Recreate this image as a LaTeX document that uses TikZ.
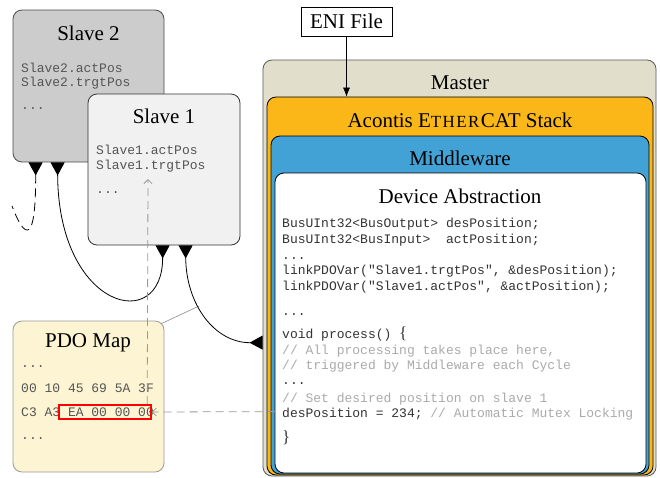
\documentclass[tikz,border=0pt]{standalone}
\usepackage{fontspec}
\setmainfont{Liberation Serif}
\setmonofont{Liberation Mono}
\usetikzlibrary{arrows.meta,calc}
\definecolor{slavetwo}{HTML}{CCCCCC}
\definecolor{slaveone}{HTML}{F1F1F1}
\definecolor{pdofill}{HTML}{FCF4D3}
\definecolor{masterfill}{HTML}{E2DECC}
\definecolor{acontisfill}{HTML}{FBB617}
\definecolor{mwfill}{HTML}{42A1D5}
\definecolor{codecol}{HTML}{333333}
\definecolor{commentcol}{HTML}{AAAAAA}
\definecolor{slavetext}{HTML}{555555}
\definecolor{dashgray}{HTML}{999999}
\tikzset{bigtri/.tip={Triangle[reversed,width=14pt,length=13pt]}}
\begin{document}
\begin{tikzpicture}[x=1pt,y=-1pt,
  box/.style={draw, rounded corners=9pt, inner sep=0pt, line width=0.8pt},
  ttl/.style={font=\fontsize{21}{25}\selectfont, anchor=base, inner sep=0pt},
  code/.style={font=\fontsize{13}{15}\selectfont\ttfamily, anchor=base west, inner sep=0pt, text=codecol},
  slv/.style={code, text=slavetext},
  cmt/.style={code, text=commentcol},
  gdash/.style={draw=dashgray, dash pattern=on 8pt off 5pt, line width=0.8pt, -{Straight Barb[length=4pt,width=8pt]}},
  link/.style={line width=0.8pt, bigtri-bigtri}]
\fill[white] (0,0) rectangle (660,477);
\useasboundingbox (0,0) rectangle (660,477);

% slaves and PDO map
\node[box, fill=slavetwo, draw=black!70, minimum width=151, minimum height=152] (s2) at (88.5,86) {};
\node[ttl] (s2t) at (88.5,40) {Slave 2};
\node[slv] (s2l1) at (21,72) {Slave2.actPos};
\node[slv] (s2l2) at (21,86) {Slave2.trgtPos};
\node[slv] (s2l3) at (21,109) {...};

\node[box, fill=slaveone, draw=black!80, minimum width=152, minimum height=151] (s1) at (164,169.5) {};
\node[ttl] (s1t) at (164,123) {Slave 1};
\node[slv] (s1l1) at (96,154) {Slave1.actPos};
\node[slv] (s1l2) at (96,169) {Slave1.trgtPos};
\node[slv] (s1l3) at (96,193) {...};

\node[box, fill=pdofill, draw=black!40, minimum width=151, minimum height=151] (pdo) at (88.5,396.5) {};
\node[ttl] (pdot) at (88,347) {PDO Map};
\node[slv] (p1) at (21,367) {...};
\node[slv] (p2) at (21,392) {00 10 45 69 5A 3F};
\node[slv] (p3) at (21,416) {C3 A3 EA 00 00 00};
\node[slv] (p4) at (21,439) {...};
\node[draw=red, line width=1.6pt, minimum width=92, minimum height=14, inner sep=0pt] (red) at (105,412) {};

% master stack
\node[box, fill=masterfill, draw=black!65, minimum width=393, minimum height=416] (master) at (459.5,268) {};
\node[box, fill=acontisfill, minimum width=386, minimum height=378] (acontis) at (460,286) {};
\node[box, fill=mwfill, minimum width=378, minimum height=338] (mw) at (460,305) {};
\node[box, fill=white, minimum width=371, minimum height=300] (da) at (460.5,323) {};
\node[ttl] (mastert) at (460,89) {Master};
\node[ttl] (acontt) at (460,127) {Acontis E{\fontsize{17}{17}\selectfont T\kern1.4pt H\kern1.4pt E\kern1.4pt R}\kern1.4pt CAT Stack};
\node[ttl] (mwt) at (460,165) {Middleware};
\node[ttl] (dat) at (460,203) {Device Abstraction};

\node[code] (l1) at (282,227) {BusUInt32<BusOutput> desPosition;};
\node[code] (l2) at (282,243) {BusUInt32<BusInput>\ \ actPosition;};
\node[code] (l3) at (282,259) {...};
\node[code] (l4) at (282,274) {linkPDOVar("Slave1.trgtPos", \&desPosition);};
\node[code] (l5) at (282,290) {linkPDOVar("Slave1.actPos", \&actPosition);};
\node[code] (l6) at (282,315) {...};
\node[code] (l7) at (282,338) {void process() {\rmfamily\fontsize{17}{17}\selectfont\{}};
\node[cmt] (l8) at (282,354) {// All processing takes place here,};
\node[cmt] (l9) at (282,369) {// triggered by Middleware each Cycle};
\node[code] (l10) at (282,384) {...};
\node[cmt] (l11) at (282,402) {// Set desired position on slave 1};
\node[code] (l12) at (282,417) {desPosition = 234; \textcolor{commentcol}{// Automatic Mutex Locking}};
\node[code] (l13) at (282,442) {{\rmfamily\fontsize{17}{17}\selectfont\}}};

% ENI file
\node[draw, fill=white, line width=0.6pt, minimum width=91, minimum height=29, inner sep=0pt, font=\fontsize{21}{25}\selectfont] (eni) at (346.5,21.5) {ENI File};
\draw[-{Latex[length=9pt,width=7pt]}, line width=0.6pt] (eni.south) -- (eni.south |- acontis.north);

% connectors
\coordinate (s2a) at ($(s2.south west)+(23,0)$);
\coordinate (s2b) at ($(s2.south west)+(45,0)$);
\coordinate (s1a) at ($(s1.south west)+(75,0)$);
\coordinate (s1b) at ($(s1.south west)+(98,0)$);
\coordinate (ma) at ($(master.north west)+(0,283)$);
\coordinate (loose) at (12,206);
\coordinate (tap) at (199,306);
\coordinate (trg) at (148,179);

\draw[draw=black!45, line width=0.6pt] ($(pdo.north east)+(-3,3)$) -- (tap);
\draw[line width=0.8pt, dash pattern=on 9pt off 5pt, bigtri-] (s2a) .. controls (36,245) and (25,240) .. (loose);
\draw[link] (s2b) .. controls (58,310) and (163,335) .. (s1a);
\draw[link] (s1b) .. controls (186,305) and (215,343) .. (ma);
\draw[gdash] ($(da.north west)+(1,239)$) -- (red.east);
\draw[gdash] ($(red.north west)+(89,0)$) -- (trg);
\end{tikzpicture}
\end{document}
